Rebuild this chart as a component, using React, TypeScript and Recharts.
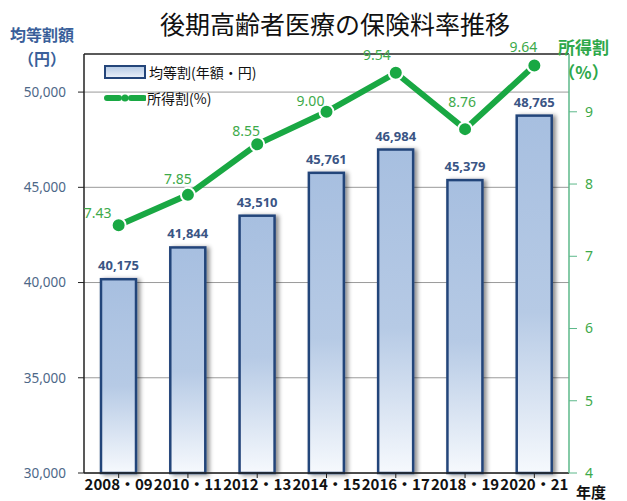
import React from "react";
import {
  ComposedChart,
  Bar,
  Line,
  XAxis,
  YAxis,
  CartesianGrid,
  LabelList,
  ReferenceLine,
} from "recharts";

const periods = ["2008・09", "2010・11", "2012・13", "2014・15", "2016・17", "2018・19", "2020・21"];
const flatRate = [40175, 41844, 43510, 45761, 46984, 45379, 48765];
const incomeRate = [7.43, 7.85, 8.55, 9.0, 9.54, 8.76, 9.64];
const leftTicks = [30000, 35000, 40000, 45000, 50000];
const rightTicks = [4, 5, 6, 7, 8, 9];

// label nudges for the line values (style only)
const lineLabelDx = [-21, -10, -11, -16, -19, -3, -11];
const lineLabelDy = [-11, -15, -12, -10, -17, -26, -17];

const data = periods.map((p, i) => ({ period: p, flat: flatRate[i], income: incomeRate[i] }));

const GREEN = "#19a843";
const NAVY = "#24457a";
const FONT = "'Noto Sans CJK JP', 'Noto Sans', sans-serif";

const BarShape = (props: any) => {
  const { x, y, width, height } = props;
  return (
    <rect
      x={x}
      y={y}
      width={width}
      height={height}
      fill="url(#barGrad)"
      stroke={NAVY}
      strokeWidth={2.5}
      filter="url(#barShadow)"
    />
  );
};

const LineLabel = (props: any) => {
  const { x, y, value, index } = props;
  return (
    <text
      x={x + lineLabelDx[index]}
      y={y + lineLabelDy[index]}
      textAnchor="middle"
      dominantBaseline="middle"
      fill="#3daa4a"
      fontSize={14}
      fontFamily="'Noto Sans', sans-serif"
    >
      {Number(value).toFixed(2)}
    </text>
  );
};

const ChartLegend = () => (
  <div style={{ position: "absolute", left: 104, top: 62, fontFamily: FONT, fontSize: 14, color: "#111", lineHeight: "20px" }}>
    <div style={{ display: "flex", alignItems: "center" }}>
      <span
        style={{
          display: "inline-block",
          width: 38,
          height: 10,
          border: `2px solid ${NAVY}`,
          background: "linear-gradient(#b8cce6, #e8eef8)",
          marginRight: 3,
        }}
      />
      均等割(年額・円)
    </div>
    <div style={{ display: "flex", alignItems: "center", marginTop: 6 }}>
      <svg width={42} height={12} style={{ marginRight: 1 }}>
        <line x1={3} y1={6} x2={15} y2={6} stroke={GREEN} strokeWidth={6} strokeLinecap="round" />
        <circle cx={21} cy={6} r={3.5} fill={GREEN} />
        <line x1={27} y1={6} x2={40} y2={6} stroke={GREEN} strokeWidth={6} strokeLinecap="round" />
      </svg>
      所得割(%)
    </div>
  </div>
);

export default function App() {
  return (
    <div style={{ position: "absolute", left: 0, top: 0, width: 627, height: 501, background: "#fff", fontFamily: FONT }}>
      <ComposedChart width={627} height={501} data={data} margin={{ top: 54, right: 0, bottom: 0, left: 0 }}>
        <defs>
          <linearGradient id="barGrad" x1="0" y1="0" x2="0" y2="1">
            <stop offset="0%" stopColor="#a7bfe0" />
            <stop offset="55%" stopColor="#b6cae5" />
            <stop offset="100%" stopColor="#f6f9fd" />
          </linearGradient>
          <filter id="barShadow" x="-30%" y="-10%" width="160%" height="120%">
            <feDropShadow dx={3} dy={1} stdDeviation={2} floodColor="#000" floodOpacity={0.45} />
          </filter>
        </defs>
        <CartesianGrid yAxisId="left" vertical={false} stroke="#9a9a9a" />
        <XAxis
          dataKey="period"
          height={28}
          interval={0}
          tickLine={{ stroke: "#222" }}
          axisLine={{ stroke: "#222", strokeWidth: 1.5 }}
          tick={{ fill: "#111", fontSize: 15, fontWeight: 700, fontFamily: FONT }}
          tickSize={5}
          tickMargin={1}
        />
        <YAxis
          yAxisId="left"
          width={84}
          domain={[30000, 52000]}
          ticks={leftTicks}
          tickFormatter={(v: number) => v.toLocaleString("en-US")}
          tick={{ fill: "#4d6888", fontSize: 13.5, fontFamily: "'Noto Sans', sans-serif" }}
          tickLine={{ stroke: "#222" }}
          axisLine={{ stroke: "#222", strokeWidth: 1.5 }}
          tickSize={6}
          tickMargin={12}
        />
        <YAxis
          yAxisId="right"
          orientation="right"
          width={58}
          domain={[4, 9.8]}
          ticks={rightTicks}
          tick={{ fill: "#3daa4a", fontSize: 14, fontFamily: "'Noto Sans', sans-serif" }}
          tickLine={{ stroke: "#5cb88a" }}
          axisLine={{ stroke: "#5cb88a", strokeWidth: 1.5 }}
          tickSize={8}
          tickMargin={8}
        />
        <ReferenceLine yAxisId="left" y={52000} stroke="#333" strokeWidth={1.5} />
        <Bar yAxisId="left" dataKey="flat" barSize={35} shape={BarShape} isAnimationActive={false}>
          <LabelList
            dataKey="flat"
            position="top"
            offset={9}
            fill="#3a5585"
            fontSize={13}
            fontWeight={700}
            fontFamily="'Noto Sans', sans-serif"
            formatter={(v: any) => Number(v).toLocaleString("en-US")}
          />
        </Bar>
        <Line
          yAxisId="right"
          dataKey="income"
          type="linear"
          stroke={GREEN}
          strokeWidth={6}
          dot={{ r: 7, fill: GREEN, stroke: "#fff", strokeWidth: 2 }}
          activeDot={false}
          isAnimationActive={false}
        >
          <LabelList dataKey="income" content={LineLabel} />
        </Line>
      </ComposedChart>
      <ChartLegend />
      <div style={{ position: "absolute", left: 0, width: 670, top: 5, textAlign: "center", fontSize: 25, color: "#111" }}>
        後期高齢者医療の保険料率推移
      </div>
      <div style={{ position: "absolute", left: 10, top: 22, fontSize: 16, fontWeight: 700, color: "#3a5f9a", textAlign: "center", lineHeight: "24px" }}>
        均等割額
        <br />
        （円）
      </div>
      <div style={{ position: "absolute", left: 558, top: 34, fontSize: 17, fontWeight: 700, color: "#2ea84a", textAlign: "center", lineHeight: "25px" }}>
        所得割
        <br />
        （%）
      </div>
      <div style={{ position: "absolute", left: 576, top: 484, fontSize: 15, fontWeight: 700, color: "#111", lineHeight: "16px" }}>年度</div>
    </div>
  );
}
